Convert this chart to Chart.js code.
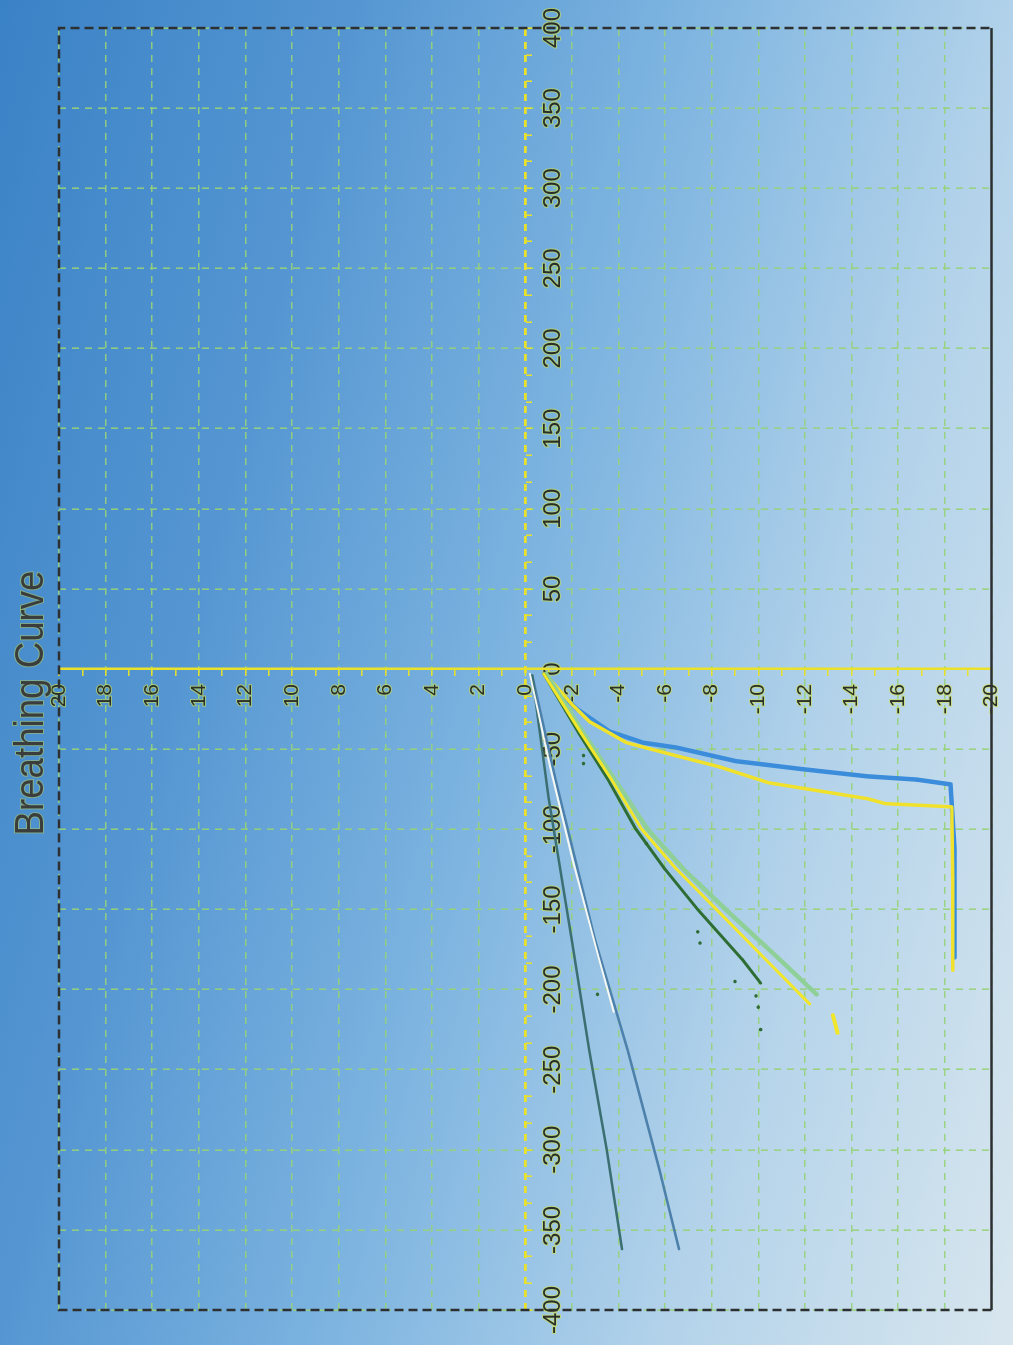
<!DOCTYPE html>
<html lang="en">
<head>
    <meta charset="UTF-8">
    <title>Breathing Curve</title>
    <script src="https://cdn.jsdelivr.net/npm/chart.js"></script>
    <style>
        html, body { margin: 0; padding: 0; }
        body {
            width: 1013px; height: 1345px; overflow: hidden; position: relative;
            background: linear-gradient(105deg, #3a82c6 0%, #5596d2 26%, #7db4e0 50%, #b2d2ea 74%, #d8e6ee 100%);
        }
        /* the chart is drawn upright and turned a quarter left, as in the print */
        #wrap {
            position: absolute; left: 0; top: 0; width: 1345px; height: 1013px;
            transform-origin: 0 0; transform: translateY(1345px) rotate(-90deg);
        }
    </style>
</head>
<body>
    <div id="wrap"><canvas id="breathChart" width="1345" height="1013"></canvas></div>

    <script>
        // x = pressure-like axis (-400..400), y = volume-like axis (20..-20)
        const xTickStep = 50 / 3;      // minor marks, labels every 50
        const yTickStep = 1;           // minor marks, labels every 2

        // long straight lines
        const darkLongX = [-4, -80, -169, -238, -300, -362];
        const darkLongY = [-0.3, -1.0, -2.0, -2.75, -3.5, -4.15];
        const blueLongX = [-4, -69, -169, -238, -312, -362];
        const blueLongY = [-0.3, -1.3, -3.0, -4.4, -5.75, -6.6];
        const whiteX = [-3, -60, -120, -180, -214];
        const whiteY = [-0.2, -1.05, -2.05, -3.15, -3.8];

        // medium lines
        const darkMidX = [-3, -40, -69, -100, -125, -150, -181, -196];
        const darkMidY = [-0.8, -2.3, -3.55, -4.75, -6.0, -7.4, -9.3, -10.1];
        const yellowMidX = [-3, -40, -69, -100, -125, -150, -181, -209];
        const yellowMidY = [-0.8, -2.4, -3.7, -5.0, -6.5, -8.2, -10.3, -12.2];
        const yellowTailX = [-216, -227];
        const yellowTailY = [-13.2, -13.4];
        const lightMidX = [-3, -40, -69, -100, -125, -150, -181, -203];
        const lightMidY = [-0.9, -2.5, -3.85, -5.25, -6.8, -8.6, -10.9, -12.5];

        // steep curves ending on the -18 plateau
        const blueSteepX = [-3, -12.5, -25, -39, -46, -49, -57.5, -62.5, -67, -69, -72, -112, -180];
        const blueSteepY = [-0.85, -1.36, -2.22, -3.62, -5.07, -6.48, -9.04, -11.9, -14.7, -16.8, -18.25, -18.42, -18.42];
        const yellowSteepX = [-3, -22, -33, -46, -53, -61, -71, -76, -81, -84, -86, -131, -188];
        const yellowSteepY = [-0.85, -2.0, -2.77, -4.35, -6.18, -8.32, -10.45, -12.58, -14.71, -15.44, -18.3, -18.34, -18.34];

        // stray samples next to the dark green line
        const dotsX = [-54, -59, -109, -164, -171, -195, -204, -211, -225, -203];
        const dotsY = [-2.5, -2.5, -5.2, -7.4, -7.5, -9.0, -9.9, -10.0, -10.1, -3.1];

        const pts = (xs, ys) => xs.map((x, i) => ({ x: x, y: ys[i] }));

        function lineSet(label, xs, ys, color, width) {
            return {
                label: label, data: pts(xs, ys), showLine: true,
                borderColor: color, backgroundColor: color, borderWidth: width,
                pointRadius: 0, borderJoinStyle: 'round', borderCapStyle: 'round', tension: 0
            };
        }

        const gridGreen = 'rgba(150, 210, 120, 0.9)';
        const axisYellow = '#e9e12a';
        const clear = 'rgba(0,0,0,0)';

        // dashed frame, solid along the bottom edge
        const framePlugin = {
            id: 'frame',
            afterDraw(chart) {
                const { ctx } = chart;
                const { left, right, top, bottom } = chart.chartArea;
                ctx.save();
                ctx.strokeStyle = '#2c3033';
                ctx.lineWidth = 2.5;
                ctx.setLineDash([9, 5]);
                ctx.beginPath();
                ctx.moveTo(left, bottom); ctx.lineTo(left, top); ctx.lineTo(right, top); ctx.lineTo(right, bottom);
                ctx.stroke();
                ctx.setLineDash([]);
                ctx.beginPath();
                ctx.moveTo(left, bottom); ctx.lineTo(right, bottom);
                ctx.stroke();
                ctx.restore();
            }
        };

        const titlePlugin = {
            id: 'plainTitle',
            afterDraw(chart) {
                const ctx = chart.ctx;
                ctx.save();
                ctx.font = '41px "Liberation Sans", Arial, sans-serif';
                ctx.textAlign = 'center';
                ctx.textBaseline = 'alphabetic';
                ctx.lineWidth = 2;
                ctx.strokeStyle = 'rgba(185, 210, 80, 0.5)';
                ctx.strokeText('Breathing Curve', 642, 43, 265);
                ctx.fillStyle = '#3a3d3c';
                ctx.fillText('Breathing Curve', 642, 43, 265);
                ctx.restore();
            }
        };

        const isMultiple = (v, m) => Math.abs(v / m - Math.round(v / m)) < 1e-6;

        new Chart(document.getElementById('breathChart'), {
            type: 'scatter',
            data: {
                datasets: [
                    { label: 'dots', data: pts(dotsX, dotsY), pointRadius: 1.8, borderWidth: 0, backgroundColor: '#2f6a34' },
                    lineSet('white', whiteX, whiteY, '#f4f7f2', 2),
                    lineSet('darkLong', darkLongX, darkLongY, '#3b6f72', 2.5),
                    lineSet('blueLong', blueLongX, blueLongY, '#4d80aa', 2.5),
                    lineSet('yellowMid', yellowMidX, yellowMidY, '#f2e62a', 3),
                    lineSet('yellowTail', yellowTailX, yellowTailY, '#f2e62a', 4),
                    lineSet('darkMid', darkMidX, darkMidY, '#2e6e35', 3),
                    lineSet('lightMid', lightMidX, lightMidY, '#8fcf98', 4.5),
                    lineSet('yellowSteep', yellowSteepX, yellowSteepY, '#f0e22c', 3.5),
                    lineSet('blueSteep', blueSteepX, blueSteepY, '#3b8ddb', 4.5)
                ]
            },
            options: {
                responsive: false,
                animation: false,
                devicePixelRatio: 1,
                layout: { padding: { left: 35, right: 26, top: 59, bottom: 20 } },
                plugins: { legend: { display: false }, tooltip: { enabled: false }, title: { display: false } },
                scales: {
                    x: {
                        type: 'linear', position: 'center', min: -400, max: 400,
                        ticks: {
                            stepSize: xTickStep, autoSkip: false, maxRotation: 0, padding: 8,
                            color: '#2a2e28', textStrokeColor: 'rgba(205, 225, 70, 0.6)', textStrokeWidth: 2,
                            font: { family: '"Liberation Sans", Arial, sans-serif', size: 24 },
                            callback: v => isMultiple(v, 50) ? String(Math.round(v)) : ''
                        },
                        grid: {
                            color: c => (c.tick && isMultiple(c.tick.value, 50)) ? gridGreen : clear,
                            lineWidth: 1.6, tickColor: axisYellow, tickLength: 6, tickWidth: 1.5
                        },
                        border: { display: false, dash: [7, 6] }
                    },
                    y: {
                        type: 'linear', position: 'center', min: -20, max: 20,
                        ticks: {
                            stepSize: yTickStep, autoSkip: false, padding: 9,
                            color: '#2a2e28', textStrokeColor: 'rgba(205, 225, 70, 0.6)', textStrokeWidth: 2,
                            font: { family: '"Liberation Sans", Arial, sans-serif', size: 21 },
                            callback: v => isMultiple(v, 2) ? String(Math.round(v)) : ''
                        },
                        grid: {
                            color: c => {
                                if (!c.tick) return gridGreen;
                                if (c.tick.value === 0) return axisYellow;
                                return isMultiple(c.tick.value, 2) ? gridGreen : clear;
                            },
                            lineWidth: c => (c.tick && c.tick.value === 0) ? 2.8 : 1.6,
                            tickColor: axisYellow, tickLength: 6, tickWidth: 1.5
                        },
                        border: { display: true, color: axisYellow, width: 2.5, dash: [7, 6] }
                    }
                }
            },
            plugins: [framePlugin, titlePlugin]
        });
    </script>
</body>
</html>
